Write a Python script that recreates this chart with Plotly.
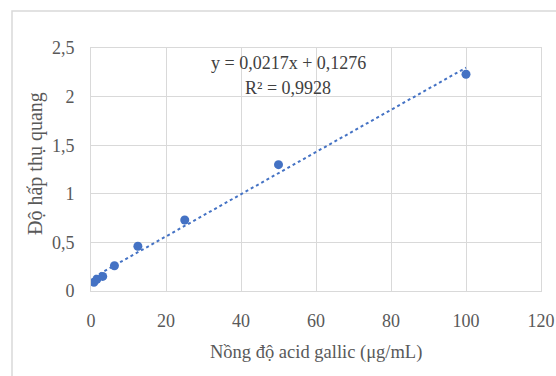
import plotly.graph_objects as go

conc = [0.78125, 1.5625, 3.125, 6.25, 12.5, 25, 50, 100]
absorb = [0.09, 0.12, 0.15, 0.26, 0.46, 0.73, 1.30, 2.23]
slope = 0.0217
intercept = 0.1276
x_ticks = [0, 20, 40, 60, 80, 100, 120]
y_ticks = [0, 0.5, 1, 1.5, 2, 2.5]
y_tick_text = ["0", "0,5", "1", "1,5", "2", "2,5"]

trend_x = [min(conc), max(conc)]
trend_y = [slope * v + intercept for v in trend_x]

W, H = 556, 376
L, R, T, B = 91, 15, 48, 85
pw, ph = W - L - R, H - T - B


def px_x(px):
    return (px - L) / pw


def px_y(py):
    return (H - B - py) / ph


fig = go.Figure()
fig.add_trace(go.Scatter(x=trend_x, y=trend_y, mode="lines",
                         line=dict(color="#4472C4", width=2, dash="dot"),
                         showlegend=False, hoverinfo="skip"))
fig.add_trace(go.Scatter(x=conc, y=absorb, mode="markers",
                         marker=dict(color="#4472C4", size=9),
                         showlegend=False))

font = "Liberation Serif"
fig.update_layout(
    width=W, height=H,
    margin=dict(l=L, r=R, t=T, b=B, autoexpand=False),
    paper_bgcolor="white", plot_bgcolor="white",
    font=dict(family=font, size=18, color="#595959"),
    xaxis=dict(range=[0, 120], tickvals=x_ticks, showgrid=True,
               gridcolor="#d9d9d9", gridwidth=1, zeroline=False,
               showline=True, linecolor="#d9d9d9", mirror=True,
               ticks="", ticklabelstandoff=13, automargin=False,
               tickfont=dict(family=font, size=18, color="#595959")),
    yaxis=dict(range=[0, 2.5], tickvals=y_ticks, ticktext=y_tick_text,
               showgrid=True, gridcolor="#d9d9d9", gridwidth=1,
               zeroline=False, showline=True, linecolor="#d9d9d9",
               mirror=True, ticks="", ticklabelstandoff=12, automargin=False,
               tickfont=dict(family=font, size=18, color="#595959")),
    shapes=[dict(type="rect", xref="paper", yref="paper",
                 x0=px_x(12), x1=1.2, y0=-0.6, y1=px_y(11),
                 line=dict(color="#d9d9d9", width=1.5), layer="below")],
    annotations=[
        dict(xref="paper", yref="paper", yanchor="middle", xanchor="center",
             x=px_x(316), y=px_y(352),
             text="Nồng độ acid gallic (μg/mL)", showarrow=False,
             font=dict(family=font, size=18.5, color="#595959")),
        dict(xref="paper", yref="paper", yanchor="middle", xanchor="center",
             x=px_x(35), y=px_y(164), textangle=-90,
             text="Độ hấp thụ quang", showarrow=False,
             font=dict(family=font, size=20, color="#595959")),
        dict(xref="paper", yref="paper", yanchor="middle", xanchor="center",
             x=px_x(288), y=px_y(63),
             text="y = 0,0217x + 0,1276", showarrow=False,
             font=dict(family=font, size=18, color="#404040")),
        dict(xref="paper", yref="paper", yanchor="middle", xanchor="center",
             x=px_x(288), y=px_y(88),
             text="R² = 0,9928", showarrow=False,
             font=dict(family=font, size=18, color="#404040")),
    ],
)
fig.write_html("out.html")
